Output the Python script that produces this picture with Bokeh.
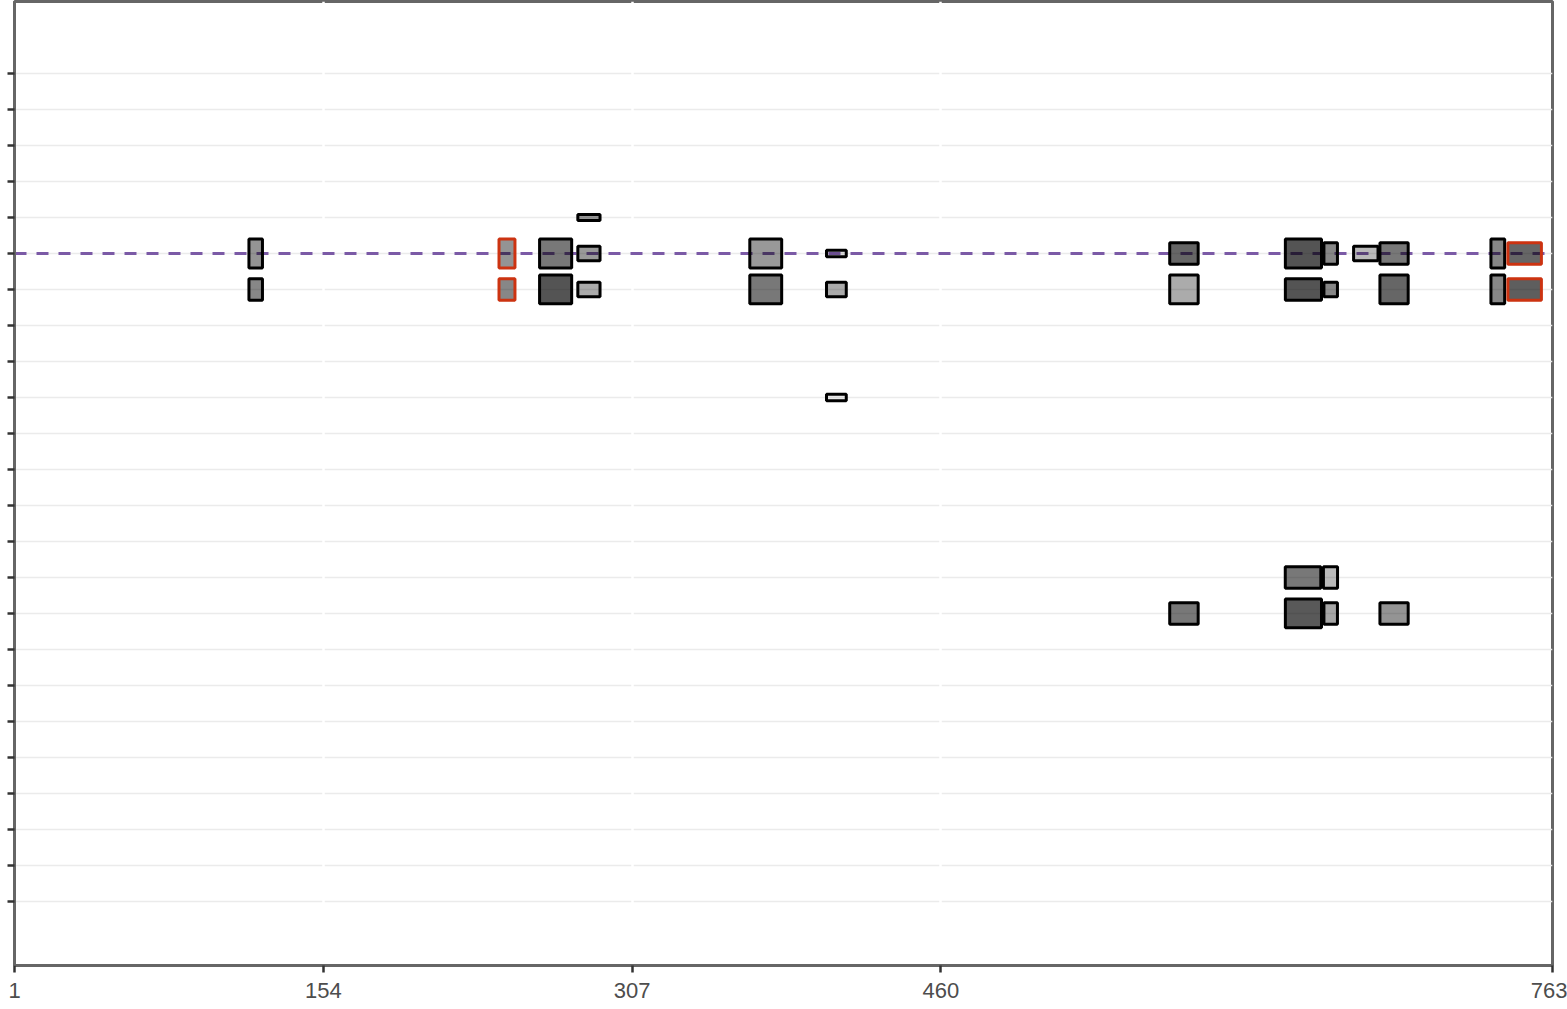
from bokeh.plotting import figure
from bokeh.models import ColumnDataSource, Range1d, FixedTicker, Span
from bokeh.embed import file_html
from bokeh.resources import INLINE

# ---- data -------------------------------------------------------------
x_ticks = [1, 154, 307, 460, 763]
y_ticks = list(range(1, 25))
reference_row = 6

# rectangles: centre position, width (positions), row, height (row units), shade (alpha of black), highlighted
x_center = [120.5, 120.5, 245.0, 245.0, 269.1, 269.1, 285.6, 285.6, 285.6,
            373.2, 373.2, 408.2, 408.2, 408.2,
            580.4, 580.4, 580.4,
            639.6, 653.1, 639.6, 653.1, 639.4, 653.0, 639.6, 653.1,
            670.5, 684.5, 684.5, 684.5,
            735.9, 735.9, 749.2, 749.2]
x_width = [6.7, 6.7, 7.9, 7.9, 15.9, 15.9, 11.0, 11.0, 11.0,
           15.8, 15.8, 9.8, 9.8, 9.8,
           14.1, 14.1, 14.1,
           17.9, 6.7, 17.9, 6.7, 17.6, 7.0, 17.9, 6.7,
           12.1, 14.0, 14.0, 14.0,
           6.8, 6.8, 16.6, 16.6]
row = [6, 7, 6, 7, 6, 7, 5, 6, 7,
       6, 7, 6, 7, 10,
       6, 7, 16,
       6, 6, 7, 7, 15, 15, 16, 16,
       6, 6, 7, 16,
       6, 7, 6, 7]
height = [0.8, 0.6, 0.8, 0.6, 0.8, 0.8, 0.17, 0.4, 0.4,
          0.8, 0.8, 0.18, 0.4, 0.18,
          0.6, 0.8, 0.6,
          0.8, 0.6, 0.6, 0.4, 0.6, 0.6, 0.8, 0.6,
          0.4, 0.6, 0.8, 0.6,
          0.8, 0.8, 0.6, 0.6]
shade = [0.42, 0.47, 0.42, 0.47, 0.53, 0.67, 0.40, 0.40, 0.33,
         0.40, 0.53, 0.13, 0.33, 0.07,
         0.60, 0.33, 0.53,
         0.67, 0.47, 0.67, 0.47, 0.53, 0.27, 0.65, 0.35,
         0.27, 0.53, 0.60, 0.42,
         0.47, 0.47, 0.60, 0.63]
highlight = [False, False, True, True, False, False, False, False, False,
             False, False, False, False, False,
             False, False, False,
             False, False, False, False, False, False, False, False,
             False, False, False, False,
             False, False, True, True]

line_col = ["#cc3311" if h else "#000000" for h in highlight]

src = ColumnDataSource(dict(x=x_center, w=x_width, y=row, h=height,
                            a=shade, lc=line_col))

# ---- figure -----------------------------------------------------------
p = figure(width=1567, height=1009, output_backend="svg", toolbar_location=None,
           x_range=Range1d(1, 763), y_range=Range1d(25.78, -1),
           min_border_left=14, min_border_right=15, min_border_top=1, min_border_bottom=44)

p.background_fill_color = "white"
p.border_fill_color = "white"
p.outline_line_color = "#666666"
p.outline_line_width = 3

# grids
p.ygrid.ticker = FixedTicker(ticks=y_ticks)
p.ygrid.grid_line_color = "#ebebeb"
p.ygrid.grid_line_width = 1.5
p.xgrid.ticker = FixedTicker(ticks=x_ticks[1:-1])
p.xgrid.grid_line_color = "white"
p.xgrid.grid_line_width = 2.5
p.center = [p.ygrid[0], p.xgrid[0]]

# reference line
p.add_layout(Span(location=reference_row, dimension="width", line_color="#7b5aa6",
                  line_width=3, line_dash="12 10", level="underlay"))

p.rect(x="x", y="y", width="w", height="h", source=src,
       fill_color="black", fill_alpha="a", line_color="lc", line_width=3)

# axes
xa = p.xaxis[0]
xa.ticker = FixedTicker(ticks=x_ticks)
xa.axis_line_color = "#666666"
xa.axis_line_width = 3
xa.major_tick_line_color = "#333333"
xa.major_tick_line_width = 2.5
xa.major_tick_out = 7
xa.major_tick_in = 0
xa.minor_tick_line_color = None
xa.major_label_text_font = "Liberation Sans"
xa.major_label_text_font_size = "22px"
xa.major_label_text_color = "#4d4d4d"
xa.major_label_standoff = 10

ya = p.yaxis[0]
ya.ticker = FixedTicker(ticks=y_ticks)
ya.axis_line_color = "#666666"
ya.axis_line_width = 3
ya.major_tick_line_color = "#333333"
ya.major_tick_line_width = 2.5
ya.major_tick_out = 7
ya.major_tick_in = 0
ya.minor_tick_line_color = None
ya.major_label_text_font_size = "0px"
ya.major_label_text_color = None
ya.major_label_standoff = 0

open("out.html", "w").write(file_html(p, INLINE))
